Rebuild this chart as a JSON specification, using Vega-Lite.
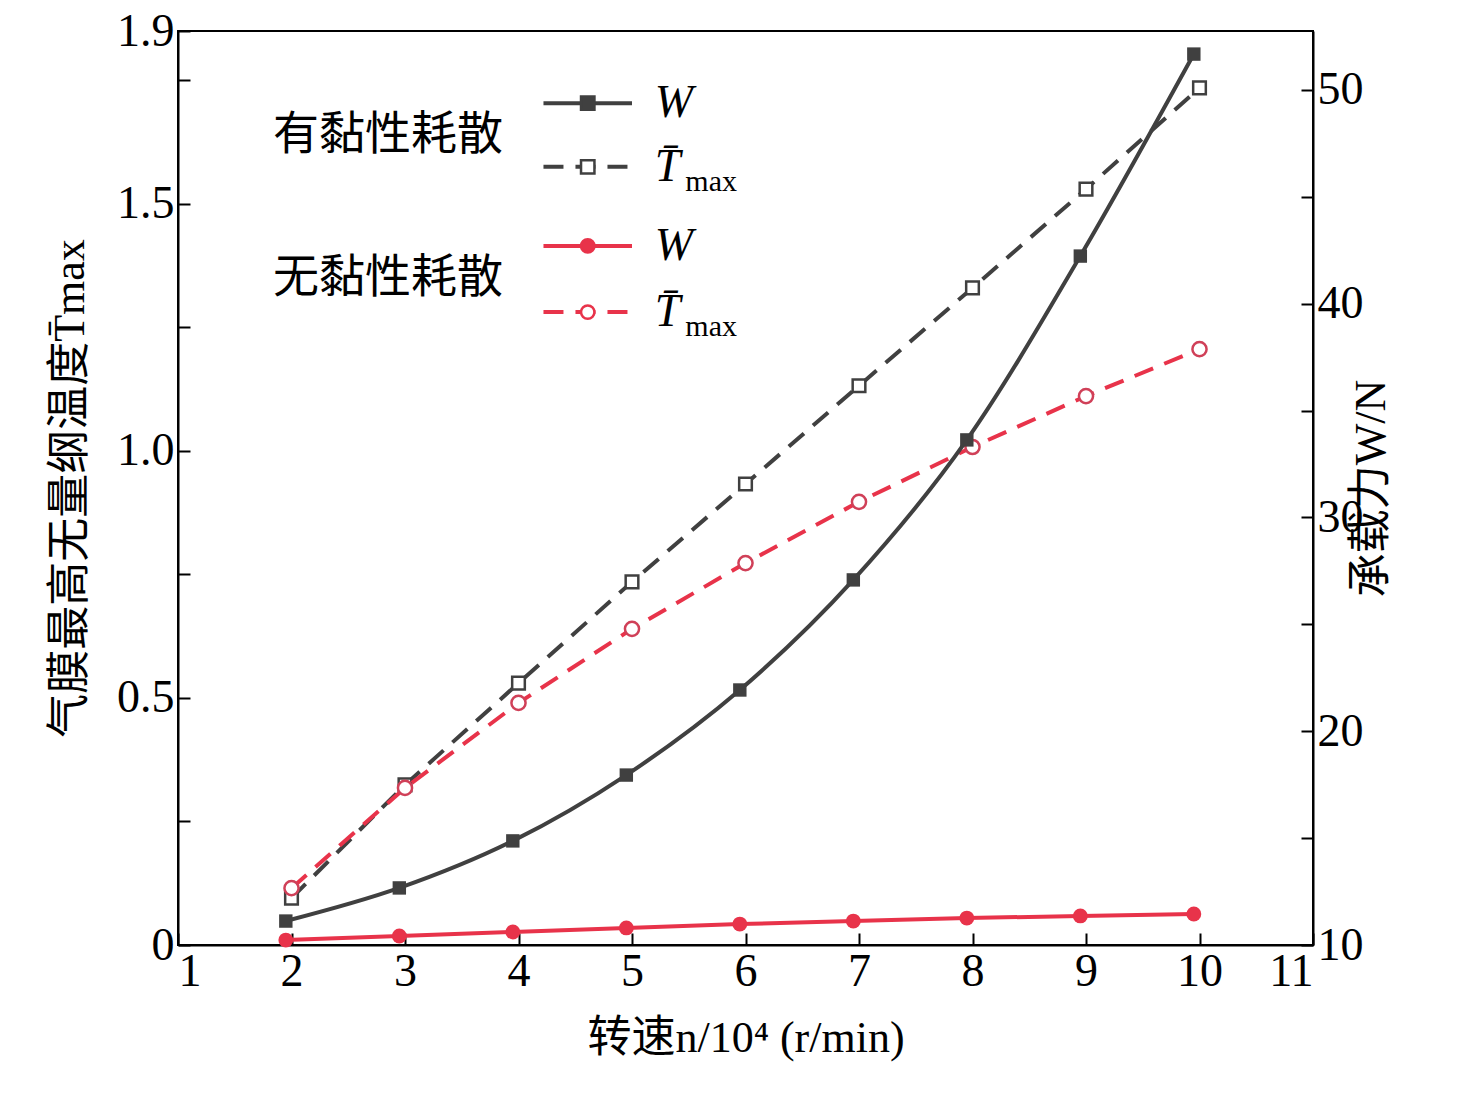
{
  "$schema": "https://vega.github.io/schema/vega-lite/v6.json",
  "autosize": "none",
  "padding": {"left": 178, "top": 31, "right": 163, "bottom": 157},
  "width": 1135,
  "height": 914,
  "background": "white",
  "config": {
    "font": "Liberation Serif, Noto Sans CJK SC",
    "view": {"stroke": "black", "strokeWidth": 2},
    "axis": {
      "labelFont": "Liberation Serif", "labelFontSize": 46, "labelColor": "black",
      "titleFont": "Liberation Serif, Noto Sans CJK SC", "titleFontSize": 44, "titleFontWeight": "normal", "titleColor": "black",
      "domainColor": "black", "domainWidth": 2, "tickColor": "black", "tickWidth": 2, "tickSize": -12, "grid": false, "labelPadding": 16
    }
  },
  "datasets": {
    "wv": [
      {"x": 1.95, "v": 11.12}, {"x": 2.95, "v": 12.67}, {"x": 3.95, "v": 14.87},
      {"x": 4.95, "v": 17.95}, {"x": 5.95, "v": 21.93}, {"x": 6.95, "v": 27.08},
      {"x": 7.95, "v": 33.63}, {"x": 8.95, "v": 42.23}, {"x": 9.95, "v": 51.68}
    ],
    "tv": [
      {"x": 2, "v": 0.095}, {"x": 3, "v": 0.324}, {"x": 4, "v": 0.53},
      {"x": 5, "v": 0.735}, {"x": 6, "v": 0.933}, {"x": 7, "v": 1.132},
      {"x": 8, "v": 1.33}, {"x": 9, "v": 1.53}, {"x": 10, "v": 1.735}
    ],
    "wn": [
      {"x": 1.95, "v": 10.23}, {"x": 2.95, "v": 10.42}, {"x": 3.95, "v": 10.61},
      {"x": 4.95, "v": 10.8}, {"x": 5.95, "v": 10.98}, {"x": 6.95, "v": 11.12},
      {"x": 7.95, "v": 11.26}, {"x": 8.95, "v": 11.36}, {"x": 9.95, "v": 11.45}
    ],
    "tn": [
      {"x": 2, "v": 0.115}, {"x": 3, "v": 0.318}, {"x": 4, "v": 0.49},
      {"x": 5, "v": 0.64}, {"x": 6, "v": 0.773}, {"x": 7, "v": 0.897},
      {"x": 8, "v": 1.008}, {"x": 9, "v": 1.111}, {"x": 10, "v": 1.206}
    ],
    "legLine": [
      {"x": 4.22, "v": 1.704, "g": "a", "dash": "solid", "c": "k"},
      {"x": 5.0, "v": 1.704, "g": "a", "dash": "solid", "c": "k"},
      {"x": 4.22, "v": 1.575, "g": "b", "dash": "dash", "c": "k"},
      {"x": 5.0, "v": 1.575, "g": "b", "dash": "dash", "c": "k"},
      {"x": 4.22, "v": 1.415, "g": "c", "dash": "solid", "c": "r"},
      {"x": 5.0, "v": 1.415, "g": "c", "dash": "solid", "c": "r"},
      {"x": 4.22, "v": 1.281, "g": "d", "dash": "dash", "c": "r"},
      {"x": 5.0, "v": 1.281, "g": "d", "dash": "dash", "c": "r"}
    ],
    "legPt": [
      {"x": 4.61, "v": 1.704, "shape": "square", "c": "k", "f": "filled"},
      {"x": 4.61, "v": 1.575, "shape": "square", "c": "k", "f": "open"},
      {"x": 4.61, "v": 1.415, "shape": "circle", "c": "r", "f": "filled"},
      {"x": 4.61, "v": 1.281, "shape": "circle", "c": "r", "f": "open"}
    ],
    "legText": [
      {"x": 2.85, "v": 1.64, "t": "有黏性耗散"},
      {"x": 2.85, "v": 1.35, "t": "无黏性耗散"}
    ],
    "legSym": [
      {"x": 5.2, "v": 1.704, "t": "W"},
      {"x": 5.2, "v": 1.575, "t": "T̄"},
      {"x": 5.2, "v": 1.415, "t": "W"},
      {"x": 5.2, "v": 1.281, "t": "T̄"}
    ],
    "legSub": [
      {"x": 5.47, "v": 1.545, "t": "max"},
      {"x": 5.47, "v": 1.251, "t": "max"}
    ]
  },
  "layer": [
    {
      "encoding": {
        "x": {"field": "x", "type": "quantitative", "scale": {"domain": [1, 11], "nice": false},
          "axis": {"values": [1, 2, 3, 4, 5, 6, 7, 8, 9, 10, 11], "format": "d", "title": "转速n/10⁴ (r/min)", "titlePadding": 22}},
        "y": {"field": "v", "type": "quantitative", "scale": {"domain": [0, 1.85], "nice": false, "zero": false},
          "axis": {"orient": "left", "title": "气膜最高无量纲温度T̄max", "titlePadding": 24,
            "values": [0, 0.25, 0.5, 0.75, 1, 1.25, 1.5, 1.75, 1.85],
            "labelExpr": "datum.value == 0 ? '0' : datum.value == 1.85 ? '1.9' : (datum.value * 2 == floor(datum.value * 2) ? format(datum.value, '.1f') : '')"}}
      },
      "layer": [
        {"data": {"name": "tv"}, "mark": {"type": "line", "color": "#404040", "strokeWidth": 4, "strokeDash": [20, 12]}},
        {"data": {"name": "tv"}, "mark": {"type": "point", "shape": "square", "filled": false, "fill": "white", "fillOpacity": 1, "stroke": "#404040", "strokeWidth": 2.5, "size": 160}},
        {"data": {"name": "tn"}, "mark": {"type": "line", "color": "#e8334a", "strokeWidth": 4, "strokeDash": [20, 12]}},
        {"data": {"name": "tn"}, "mark": {"type": "point", "shape": "circle", "filled": false, "fill": "white", "fillOpacity": 1, "stroke": "#d04058", "strokeWidth": 2.5, "size": 200}},
        {"data": {"name": "legLine"}, "mark": {"type": "line", "strokeWidth": 4},
          "encoding": {"detail": {"field": "g"},
            "color": {"field": "c", "type": "nominal", "scale": {"domain": ["k", "r"], "range": ["#404040", "#e8334a"]}, "legend": null},
            "strokeDash": {"field": "dash", "type": "nominal", "scale": {"domain": ["solid", "dash"], "range": [[1, 0], [20, 12]]}, "legend": null}}},
        {"data": {"name": "legPt"}, "mark": {"type": "point", "strokeWidth": 2.5, "size": 180, "fillOpacity": 1, "opacity": 1},
          "encoding": {
            "shape": {"field": "shape", "type": "nominal", "scale": null},
            "stroke": {"field": "c", "type": "nominal", "scale": {"domain": ["k", "r"], "range": ["#404040", "#e8334a"]}, "legend": null},
            "fill": {"condition": {"test": "datum.f == 'open'", "value": "white"}, "value": {"expr": "datum.c == 'k' ? '#404040' : '#e8334a'"}}}},
        {"data": {"name": "legText"}, "mark": {"type": "text", "fontSize": 46, "font": "Noto Sans CJK SC", "align": "center", "baseline": "middle"},
          "encoding": {"text": {"field": "t"}}},
        {"data": {"name": "legSym"}, "mark": {"type": "text", "fontSize": 46, "fontStyle": "italic", "font": "Liberation Serif", "align": "left", "baseline": "middle"},
          "encoding": {"text": {"field": "t"}}},
        {"data": {"name": "legSub"}, "mark": {"type": "text", "fontSize": 30, "font": "Liberation Serif", "align": "left", "baseline": "middle"},
          "encoding": {"text": {"field": "t"}}}
      ]
    },
    {
      "encoding": {
        "x": {"field": "x", "type": "quantitative", "scale": {"domain": [1, 11], "nice": false}},
        "y": {"field": "v", "type": "quantitative", "scale": {"domain": [10, 52.76], "nice": false, "zero": false},
          "axis": {"orient": "right", "title": "承载力W/N", "titleAngle": 270, "titlePadding": 30,
            "values": [10, 15, 20, 25, 30, 35, 40, 45, 50],
            "labelExpr": "datum.value % 10 == 0 ? format(datum.value, 'd') : ''"}}
      },
      "layer": [
        {"data": {"name": "wv"}, "mark": {"type": "line", "color": "#404040", "strokeWidth": 4, "interpolate": "monotone"}},
        {"data": {"name": "wv"}, "mark": {"type": "point", "shape": "square", "filled": true, "color": "#404040", "opacity": 1, "size": 180}},
        {"data": {"name": "wn"}, "mark": {"type": "line", "color": "#e8334a", "strokeWidth": 4}},
        {"data": {"name": "wn"}, "mark": {"type": "point", "shape": "circle", "filled": true, "color": "#e8334a", "opacity": 1, "size": 220}}
      ]
    }
  ],
  "resolve": {"scale": {"y": "independent"}}
}
